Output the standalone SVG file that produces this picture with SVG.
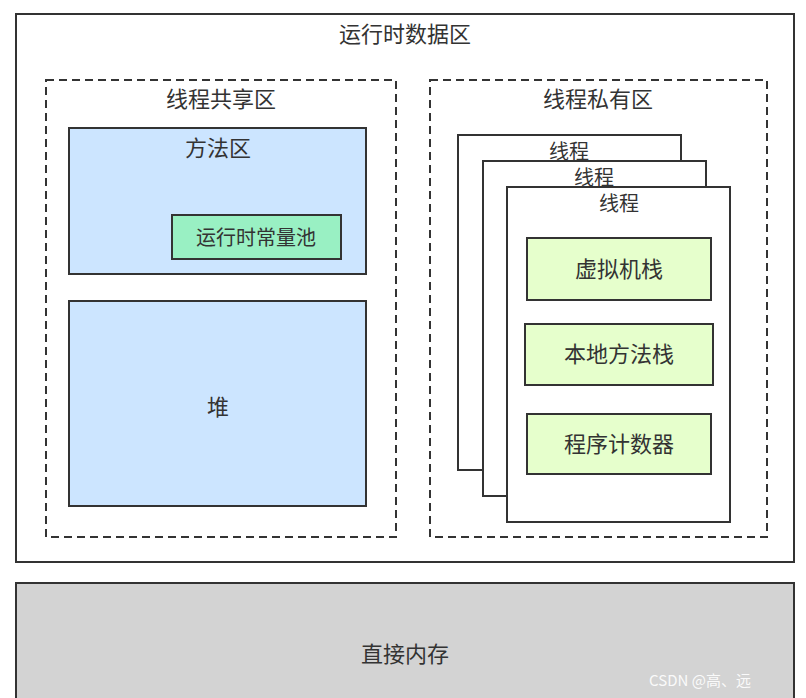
<svg xmlns="http://www.w3.org/2000/svg" width="806" height="698" viewBox="0 0 806 698">
<style>
text{font-family:"Noto Sans CJK SC","Liberation Sans",sans-serif;fill:#333;text-anchor:middle}
.b{stroke:#333;stroke-width:2}
.d{fill:none;stroke:#333;stroke-width:2;stroke-dasharray:8,5}
.blue{fill:#cce5ff}
.g{fill:#e6ffcc}
.w{fill:#fff}
.t{font-size:20px}
.s{font-size:22px}
</style>
<rect width="806" height="698" fill="#fff"/>
<g id="runtime"><rect class="b w" x="16" y="14" width="778" height="548"/><text class="s" x="405" y="42">运行时数据区</text></g>
<g id="shared"><rect class="d" x="46" y="80" width="350" height="457"/><text class="s" x="221" y="107">线程共享区</text></g>
<g id="private"><rect class="d" x="430" y="80" width="337" height="457"/><text class="s" x="598" y="107">线程私有区</text></g>
<g id="method"><rect class="b blue" x="69" y="128" width="297" height="146"/><text class="s" x="218" y="156">方法区</text></g>
<g id="pool"><rect class="b" fill="#99f0c3" x="172" y="215" width="169" height="44"/><text class="t" x="256" y="245">运行时常量池</text></g>
<g id="heap"><rect class="b blue" x="69" y="301" width="297" height="205"/><text class="s" x="218" y="415">堆</text></g>
<g id="thread1"><rect class="b w" x="458" y="135" width="223" height="335"/><text class="t" x="569" y="159">线程</text></g>
<g id="thread2"><rect class="b w" x="483" y="161" width="223" height="335"/><text class="t" x="594" y="185">线程</text></g>
<g id="thread3"><rect class="b w" x="507" y="187" width="223" height="335"/><text class="t" x="619" y="211">线程</text></g>
<g id="vmstack"><rect class="b g" x="527" y="238" width="184" height="62"/><text class="s" x="619" y="277">虚拟机栈</text></g>
<g id="native"><rect class="b g" x="525" y="324" width="188" height="61"/><text class="s" x="619" y="362">本地方法栈</text></g>
<g id="pc"><rect class="b g" x="527" y="414" width="184" height="60"/><text class="s" x="619" y="452">程序计数器</text></g>
<g id="direct"><rect class="b" fill="#d3d3d3" x="16" y="583" width="778" height="120"/><text class="s" x="405" y="662">直接内存</text></g>
<g id="connectors"></g>
<text x="700" y="686" style="font-size:15px;fill:#fff;opacity:0.9">CSDN @高、远</text>
</svg>
